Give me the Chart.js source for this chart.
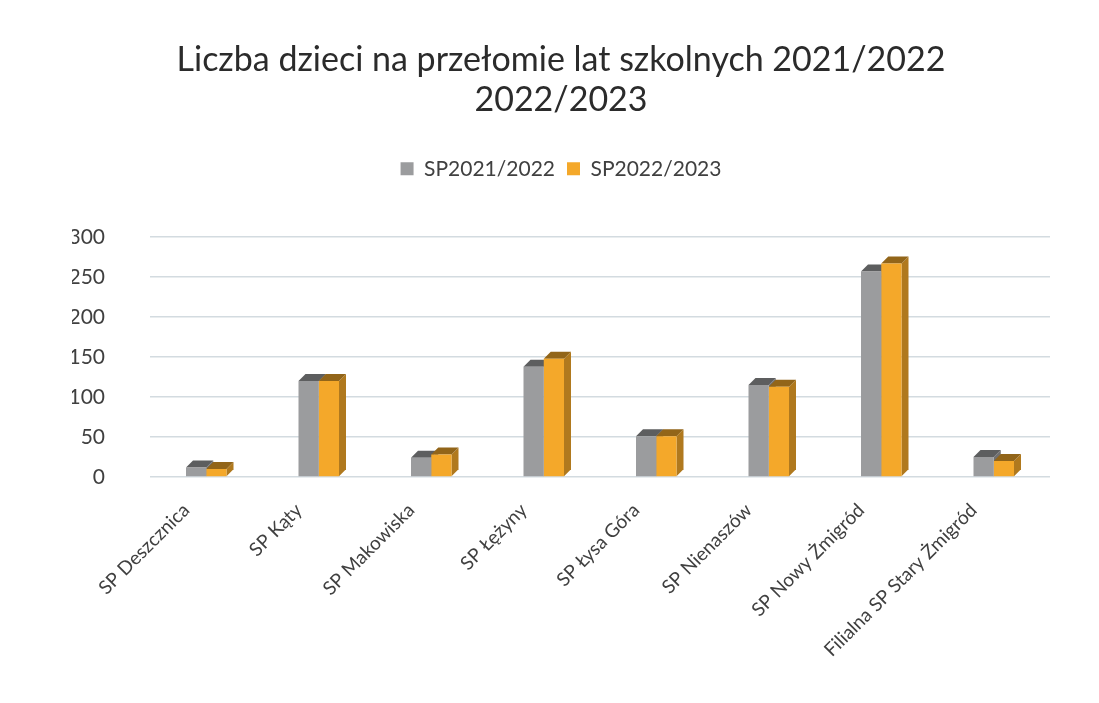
<!DOCTYPE html>
<html>
<head>
<meta charset="utf-8">
<script src="https://cdn.jsdelivr.net/npm/chart.js@4.4.0/dist/chart.umd.min.js"></script>
<style>
html,body{margin:0;padding:0;background:#fff;}
#wrap{position:relative;width:1099px;height:703px;}
</style>
</head>
<body>
<div id="wrap"><canvas id="c"></canvas></div>
<script>
const categories = ['SP Deszcznica','SP Kąty','SP Makowiska','SP Łężyny','SP Łysa Góra','SP Nienaszów','SP Nowy Żmigród','Filialna SP Stary Żmigród'];
const series2122 = [12, 120, 24, 138, 51, 115, 257, 25];
const series2223 = [10, 120, 28, 148, 51, 113, 267, 20];
const seriesNames = ['SP2021/2022','SP2022/2023'];
const titleLines = ['Liczba dzieci na przełomie lat szkolnych 2021/2022','2022/2023'];
const yTicks = [0, 50, 100, 150, 200, 250, 300];

const FONT = 'Lato, "Open Sans", sans-serif';

function shade(hex, f){
  const n = parseInt(hex.slice(1),16);
  let r=(n>>16)&255,g=(n>>8)&255,b=n&255;
  r=Math.round(r*f);g=Math.round(g*f);b=Math.round(b*f);
  return `rgb(${Math.min(255,r)},${Math.min(255,g)},${Math.min(255,b)})`;
}

const depth3d = {
  id:'depth3d',
  beforeDatasetsDraw(chart){
    const ctx = chart.ctx; const d = 7;
    chart.data.datasets.forEach((ds,i)=>{
      const meta = chart.getDatasetMeta(i);
      meta.data.forEach(bar=>{
        const {x,y,base,width} = bar.getProps(['x','y','base','width'],true);
        const l = x-width/2, r = x+width/2;
        ctx.save();
        ctx.fillStyle = shade(ds.backgroundColor, 0.72);
        ctx.beginPath();
        ctx.moveTo(r,y); ctx.lineTo(r+d,y-d); ctx.lineTo(r+d,base-d); ctx.lineTo(r,base); ctx.closePath(); ctx.fill();
        ctx.fillStyle = shade(ds.backgroundColor, 0.6);
        ctx.beginPath();
        ctx.moveTo(l,y); ctx.lineTo(l+d,y-d); ctx.lineTo(r+d,y-d); ctx.lineTo(r,y); ctx.closePath(); ctx.fill();
        ctx.restore();
      });
    });
  }
};

const legendGap = {
  id:'legendGap',
  beforeInit(chart){
    const orig = chart.legend.fit;
    chart.legend.fit = function(){ orig.bind(chart.legend)(); this.height += 48; };
  }
};

new Chart(document.getElementById('c'), {
  type:'bar',
  data:{
    labels: categories,
    datasets:[
      {label:seriesNames[0], data:series2122, backgroundColor:'#9b9c9e', categoryPercentage:0.36, barPercentage:1},
      {label:seriesNames[1], data:series2223, backgroundColor:'#f4a82a', categoryPercentage:0.36, barPercentage:1}
    ]
  },
  plugins:[depth3d, legendGap],
  options:{
    responsive:true, maintainAspectRatio:false, animation:false,
    layout:{padding:{left:72,right:49,top:0,bottom:0}},
    plugins:{
      title:{display:true, text:titleLines, color:'#2b2b2b', font:{family:FONT, size:34, weight:'normal', lineHeight:1.18}, padding:{top:40,bottom:26}},
      legend:{position:'top', labels:{color:'#404040', font:{family:FONT,size:21}, boxWidth:13, boxHeight:13, padding:12}},
      tooltip:{enabled:false}
    },
    scales:{
      y:{
        min:0, max:300,
        afterBuildTicks(scale){ scale.ticks = yTicks.map(v=>({value:v})); },
        afterFit(scale){ scale.width = 78; },
        grid:{color:'#d3dbe0', lineWidth:1.5, drawTicks:false},
        border:{display:false},
        ticks:{color:'#404040', font:{family:FONT,size:21}, padding:45}
      },
      x:{
        afterFit(scale){ scale.height = 226; },
        grid:{display:false},
        border:{display:false},
        ticks:{color:'#404040', font:{family:FONT,size:19}, minRotation:45, maxRotation:45, labelOffset:-20, padding:14, autoSkip:false}
      }
    }
  }
});
</script>
</body>
</html>
